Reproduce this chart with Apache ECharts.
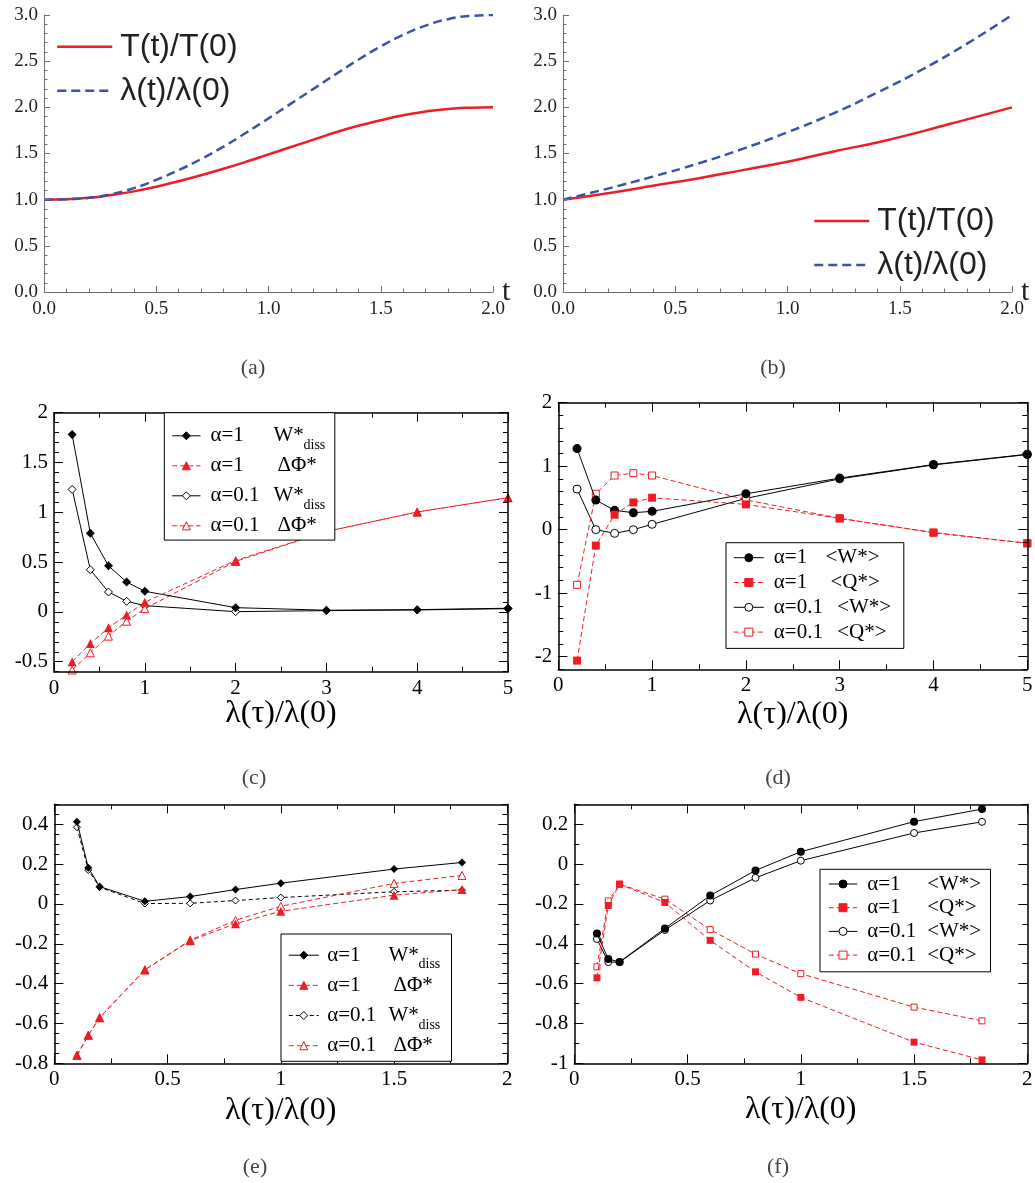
<!DOCTYPE html>
<html><head><meta charset="utf-8">
<script src="https://cdn.jsdelivr.net/npm/echarts@6/dist/echarts.min.js"></script>
<style>html,body{margin:0;padding:0;background:#fff}#c{width:1035px;height:1183px}</style>
</head><body><div id="c"></div>
<script>
// ---------------- data ----------------
const tA = [0,0.1,0.2,0.3,0.4,0.5,0.6,0.7,0.8,0.9,1.0,1.1,1.2,1.3,1.4,1.5,1.6,1.7,1.8,1.9,2.0];
const aTemp = [1.00,1.005,1.02,1.05,1.09,1.14,1.20,1.265,1.335,1.41,1.49,1.57,1.65,1.73,1.80,1.86,1.915,1.955,1.983,1.996,2.00];
const aLam  = [1.00,1.005,1.02,1.06,1.125,1.215,1.32,1.44,1.575,1.725,1.88,2.04,2.20,2.36,2.515,2.66,2.785,2.885,2.955,2.99,3.00];
const tB = [0,0.2,0.4,0.6,0.8,1.0,1.2,1.4,1.6,1.8,2.0];
const bTemp = [1.00,1.07,1.15,1.23,1.32,1.41,1.52,1.62,1.74,1.87,2.00];
const bLam  = [1.00,1.12,1.25,1.39,1.55,1.73,1.93,2.16,2.41,2.69,3.00];

const xCD = [0.2,0.4,0.6,0.8,1,2,3,4,5];
const cW1    = [1.78,0.79,0.463,0.30,0.207,0.043,0.017,0.023,0.037];
const cPhi1  = [-0.50,-0.317,-0.16,-0.03,0.097,0.517,0.807,1.003,1.147];
const cW01   = [1.23,0.423,0.20,0.107,0.063,0.003,0.013,0.02,0.033];
const cPhi01 = [-0.583,-0.41,-0.243,-0.093,0.033,0.507,0.807,1.003,1.147];

const dW1  = [1.277,0.466,0.304,0.267,0.288,0.565,0.812,1.026,1.188];
const dQ1  = [-2.063,-0.251,0.236,0.429,0.503,0.398,0.178,-0.047,-0.215];
const dW01 = [0.639,0.0,-0.058,0.0,0.084,0.492,0.80,1.02,1.183];
const dQ01 = [-0.869,0.565,0.853,0.89,0.853,0.47,0.178,-0.047,-0.215];

const xEF = [0.1,0.15,0.2,0.4,0.6,0.8,1.0,1.5,1.8];
const eW1    = [0.413,0.182,0.087,0.013,0.037,0.072,0.104,0.175,0.208];
const ePhi1  = [-0.76,-0.659,-0.571,-0.331,-0.185,-0.099,-0.037,0.044,0.072];
const eW01   = [0.385,0.170,0.084,0.002,0.003,0.017,0.032,0.061,0.069];
const ePhi01 = [-0.76,-0.659,-0.571,-0.331,-0.182,-0.082,-0.012,0.103,0.143];

const fW1  = [-0.348,-0.477,-0.491,-0.323,-0.158,-0.032,0.062,0.213,0.276];
const fQ1  = [-0.571,-0.208,-0.101,-0.193,-0.383,-0.541,-0.669,-0.894,-0.983];
const fW01 = [-0.376,-0.492,-0.492,-0.331,-0.183,-0.069,0.017,0.156,0.212];
const fQ01 = [-0.516,-0.185,-0.101,-0.176,-0.329,-0.452,-0.55,-0.718,-0.787];

// tick labels
const abXTicks = [0,0.5,1,1.5,2];
const abYTicks = [0,0.5,1,1.5,2,2.5,3];
const cdXTicks = [0,1,2,3,4,5];
const cYTicks  = [-0.5,0,0.5,1,1.5,2];
const dYTicks  = [-2,-1,0,1,2];
const efXTicks = [0,0.5,1,1.5,2];
const eYTicks  = [-0.8,-0.6,-0.4,-0.2,0,0.2,0.4];
const fYTicks  = [-1,-0.8,-0.6,-0.4,-0.2,0,0.2];
const captions = ['(a)','(b)','(c)','(d)','(e)','(f)'];

// ---------------- styles ----------------
const SERIF = "'Liberation Serif','Times New Roman',serif";
const SANS = "'Liberation Sans',Arial,sans-serif";
const RED = '#ee1c24', BLUE = '#3a53a4', BLACK = '#000000';
const XLAB = 'λ(τ)/λ(0)';

const grid = [], xAxis = [], yAxis = [], series = [], legend = [], graphic = [];

const MATH = {axis:'#6d6e71', lw:1, maj:6, min:3.5, text:'#231f20', fs:19, fmt:v => v.toFixed(1), xm:8, ym:6};
const GRACE = {axis:'#000', lw:1.5, maj:9, min:5, text:'#000', fs:21, fmt:v => String(Math.round(v*1000)/1000), xm:6, ym:6};

function zip(xs, ys){ return xs.map((x,i)=>[x, ys[i]]); }

function buildPanel(P) {
  const gi = grid.length;
  grid.push({left:P.box[0], top:P.box[1], width:P.box[2], height:P.box[3], containLabel:false, outerBoundsMode:'none'});
  const S = P.st;
  function ax(list, pos, r, major, labelled, extra, isX) {
    const a = {
      type:'value', gridIndex:gi, position:pos, min:r.min, max:r.max, offset:0,
      axisLine:{show:major, onZero:false, lineStyle:{color:S.axis, width:S.lw}},
      axisTick:{show:true, inside:true, length: major ? S.maj : S.min, lineStyle:{color:S.axis, width:1}},
      axisLabel:{show:false},
      splitLine:{show:false}, minorTick:{show:false}, axisPointer:{show:false}, silent:true, z:5
    };
    if (major) {
      a.axisTick.customValues = r.ticks;
      if (labelled) {
        a.axisLabel = {show:true, customValues:r.ticks, formatter:S.fmt, color:S.text,
          fontFamily:SERIF, fontSize:S.fs, margin: isX ? S.xm : S.ym, hideOverlap:false};
      }
    } else {
      a.interval = r.minor;
    }
    if (extra) Object.assign(a, extra);
    list.push(a);
    return list.length - 1;
  }
  const xi = ax(xAxis, 'bottom', P.x, true, true, P.xName, true);
  ax(xAxis, 'bottom', P.x, false, false, null, true);
  const yi = ax(yAxis, 'left', P.y, true, true, null, false);
  ax(yAxis, 'left', P.y, false, false, null, false);
  if (P.frame) {
    ax(xAxis, 'top', P.x, true, false, null, true);
    ax(xAxis, 'top', P.x, false, false, null, true);
    ax(yAxis, 'right', P.y, true, false, null, false);
    ax(yAxis, 'right', P.y, false, false, null, false);
  }
  P.series.forEach(s => series.push(Object.assign({type:'line', xAxisIndex:xi, yAxisIndex:yi, animation:false, silent:true}, s)));
}

function mathLine(name, xs, ys, color, dash) {
  return {name, data:zip(xs, ys), symbol:'none', showSymbol:false, smooth:0.5, z:2,
    lineStyle:{color, width:2.5, type: dash ? [9,5] : 'solid'}, itemStyle:{color}};
}
function graceLine(name, xs, ys, color, dash, sym, size, open) {
  return {name, data:zip(xs, ys), symbol:sym, symbolSize:size, showSymbol:true, z: open ? 2 : 3,
    lineStyle:{color, width:1, type: dash ? dash : 'solid'},
    itemStyle: open ? {color:'#fff', borderColor:color, borderWidth:1} : {color, borderColor:color, borderWidth:0}};
}

const nameX = (gap) => ({name:XLAB, nameLocation:'middle', nameGap:gap, nameMoveOverlap:false,
  nameTextStyle:{fontFamily:SERIF, fontSize:32, color:'#000'}});
const nameT = {name:'t', nameLocation:'end', nameGap:9, nameMoveOverlap:false,
  nameTextStyle:{fontFamily:SERIF, fontSize:30, color:'#231f20', verticalAlign:'middle'}};

// ---------- panel a ----------
buildPanel({box:[44,15,449,277], st:MATH, frame:false,
  x:{min:0,max:2,minor:0.1,ticks:abXTicks}, y:{min:0,max:3,minor:0.1,ticks:abYTicks}, xName:nameT,
  series:[mathLine('T(t)/T(0)', tA, aTemp, RED, false), mathLine('λ(t)/λ(0)', tA, aLam, BLUE, true)]});
// ---------- panel b ----------
buildPanel({box:[563,15,449,277], st:MATH, frame:false,
  x:{min:0,max:2,minor:0.1,ticks:abXTicks}, y:{min:0,max:3,minor:0.1,ticks:abYTicks}, xName:nameT,
  series:[mathLine('T(t)/T(0) b', tB, bTemp, RED, false), mathLine('λ(t)/λ(0) b', tB, bLam, BLUE, true)]});
// ---------- panel c ----------
buildPanel({box:[54,412.7,454,259], st:GRACE, frame:true,
  x:{min:0,max:5,minor:0.5,ticks:cdXTicks}, y:{min:-0.6,max:2,minor:0.1,ticks:cYTicks}, xName:nameX(26),
  series:[
    graceLine('c1', xCD, cW1, BLACK, null, 'diamond', 9, false),
    graceLine('c2', xCD, cPhi1, RED, [5,3], 'triangle', 9, false),
    graceLine('c3', xCD, cW01, BLACK, null, 'diamond', 8, true),
    graceLine('c4', xCD, cPhi01, RED, [5,3], 'triangle', 8, true)]});
// ---------- panel d ----------
buildPanel({box:[558.3,402.7,469,266.6], st:GRACE, frame:true,
  x:{min:0,max:5,minor:0.5,ticks:cdXTicks}, y:{min:-2.2,max:2,minor:0.2,ticks:dYTicks}, xName:nameX(29),
  series:[
    graceLine('d1', xCD, dW1, BLACK, null, 'circle', 9, false),
    graceLine('d2', xCD, dQ1, RED, [5,3], 'rect', 8, false),
    graceLine('d3', xCD, dW01, BLACK, null, 'circle', 8, true),
    graceLine('d4', xCD, dQ01, RED, [5,3], 'rect', 7, true)]});
// ---------- panel e ----------
buildPanel({box:[54.3,804.3,453,259], st:GRACE, frame:true,
  x:{min:0,max:2,minor:0.25,ticks:efXTicks}, y:{min:-0.8,max:0.5,minor:0.05,ticks:eYTicks}, xName:nameX(31),
  series:[
    graceLine('e1', xEF, eW1, BLACK, null, 'diamond', 8, false),
    graceLine('e2', xEF, ePhi1, RED, [5,3], 'triangle', 9, false),
    graceLine('e3', xEF, eW01, BLACK, [4,3], 'diamond', 7, true),
    graceLine('e4', xEF, ePhi01, RED, [5,3], 'triangle', 8, true)]});
// ---------- panel f ----------
buildPanel({box:[574.3,804.3,453,259], st:GRACE, frame:true,
  x:{min:0,max:2,minor:0.25,ticks:efXTicks}, y:{min:-1,max:0.3,minor:0.1,ticks:fYTicks}, xName:nameX(30),
  series:[
    graceLine('f1', xEF, fW1, BLACK, null, 'circle', 8, false),
    graceLine('f2', xEF, fQ1, RED, [5,3], 'rect', 7, false),
    graceLine('f3', xEF, fW01, BLACK, null, 'circle', 7, true),
    graceLine('f4', xEF, fQ01, RED, [5,3], 'rect', 6, true)]});

// ---------------- legends ----------------
const LABEL = {'T(t)/T(0) b':'T(t)/T(0)', 'λ(t)/λ(0) b':'λ(t)/λ(0)'};
function mathLegend(names, left, top) {
  return {data:names, left, top, orient:'vertical', itemWidth:55, itemHeight:10, itemGap:0, padding:0,
    selectedMode:false, itemStyle:{opacity:0}, lineStyle:{width:2.5},
    textStyle:{fontFamily:SANS, fontSize:32, color:'#231f20', lineHeight:36, padding:[0,0,8,3]},
    formatter: n => LABEL[n] || n};
}
legend.push(mathLegend(['T(t)/T(0)','λ(t)/λ(0)'], 56, 24.7));
legend.push(mathLegend(['T(t)/T(0) b','λ(t)/λ(0) b'], 813, 199));

function graceLegend(names, items, cfg) {
  const rich = {}; const fmt = {}; let k = 0;
  items.forEach((parts, i) => {
    let s = '';
    parts.forEach(([txt, w, sub]) => {
      const key = 'r' + (k++);
      rich[key] = sub
        ? {width:w, fontFamily:SERIF, fontSize:14, lineHeight:cfg.lh, padding:[cfg.sp,0,0,0], color:'#000'}
        : {width:w, fontFamily:SERIF, fontSize:cfg.fs, lineHeight:cfg.lh, color:'#000'};
      s += '{' + key + '|' + txt + '}';
    });
    fmt[names[i]] = s;
  });
  return {data:names, left:cfg.left, top:cfg.top, orient:'vertical', itemWidth:cfg.iw, itemHeight:10,
    itemGap:cfg.gap, padding:cfg.pad, borderColor:'#000', borderWidth:1, backgroundColor:'#fff',
    selectedMode:false, lineStyle:{width:1}, itemStyle:{borderWidth:1},
    textStyle:{fontFamily:SERIF, fontSize:cfg.fs, color:'#000', lineHeight:cfg.lh, rich},
    formatter: n => fmt[n] || n, z:10};
}
// c
legend.push(graceLegend(['c1','c2','c3','c4'], [
  [[' ',5],['α=1',63],['W*',30],['diss',25.3,true]],
  [[' ',5],['α=1',67],['ΔΦ*',51.3]],
  [[' ',5],['α=0.1',63],['W*',30],['diss',25.3,true]],
  [[' ',5],['α=0.1',67],['ΔΦ*',51.3]]],
  {left:164.3, top:412.7, iw:28.3, gap:0.5, pad:[6.6,6,1.3,7.4], fs:21, lh:26, sp:19}));
// d
legend.push(graceLegend(['d1','d2','d3','d4'], [
  [[' ',5],['α=1',51.7],['<W*>',71.7]],
  [[' ',5],['α=1',56.7],['<Q*>',66.7]],
  [[' ',5],['α=0.1',63.4],['<W*>',60]],
  [[' ',5],['α=0.1',63.4],['<Q*>',60]]],
  {left:726, top:542.7, iw:30, gap:0.8, pad:[3,6.6,4.3,7.3], fs:21, lh:24, sp:19}));
// e
legend.push(graceLegend(['e1','e2','e3','e4'], [
  [[' ',3.4],['α=1',61.3],['W*',30],['diss',27,true]],
  [[' ',3.4],['α=1',66.3],['ΔΦ*',52]],
  [[' ',3.4],['α=0.1',61.3],['W*',30],['diss',27,true]],
  [[' ',3.4],['α=0.1',66.3],['ΔΦ*',52]]],
  {left:281, top:934, iw:30, gap:0.67, pad:[4.7,6,2.6,7.3], fs:21, lh:26, sp:19}));
// f
legend.push(graceLegend(['f1','f2','f3','f4'], [
  [[' ',5],['α=1',60],['<W*>',58.3]],
  [[' ',5],['α=1',60],['<Q*>',58.3]],
  [[' ',5],['α=0.1',60],['<W*>',58.3]],
  [[' ',5],['α=0.1',60],['<Q*>',58.3]]],
  {left:820, top:869.3, iw:28.4, gap:0.7, pad:[3.2,5,5.2,8.3], fs:21, lh:23, sp:18}));

// ---------------- captions ----------------
const capPos = [[253,368],[773,368],[254,778],[778,778],[255,1167],[778,1167]];
captions.forEach((t, i) => graphic.push({type:'text', x:capPos[i][0], y:capPos[i][1], silent:true,
  style:{text:t, fontFamily:SERIF, fontSize:22, fill:'#444', align:'center', verticalAlign:'middle'}}));

const chart = echarts.init(document.getElementById('c'), null, {renderer:'canvas'});
chart.setOption({
  animation:false, backgroundColor:'#fff',
  textStyle:{fontFamily:SERIF},
  grid, xAxis, yAxis, series, legend, graphic
});
</script></body></html>
